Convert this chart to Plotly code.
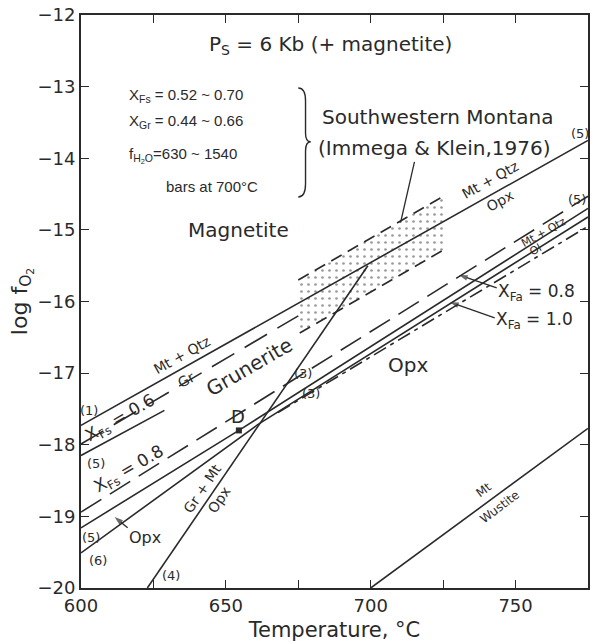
import plotly.graph_objects as go

# --- reaction boundaries: temperature (°C) and log fO2 ---
temp_mt_qtz_gr = [600, 775]
logf_mt_qtz_gr = [-17.73, -13.75]

temp_gr_mt_opx = [622.9, 699]
logf_gr_mt_opx = [-20.0, -15.5]

temp_line5_upper = [600, 628.8]
logf_line5_upper = [-18.15, -17.52]

temp_xfs06 = [600, 675]
logf_xfs06 = [-17.99, -16.20]

temp_xfs08 = [600, 775]
logf_xfs08 = [-18.94, -14.53]

temp_line5 = [600, 654.5, 775]
logf_line5 = [-19.16, -17.80, -14.70]

temp_line6 = [600, 661, 775]
logf_line6 = [-19.51, -17.72, -14.82]

temp_xfa10 = [668, 775]
logf_xfa10 = [-17.55, -14.95]

temp_mt_wus = [700, 775]
logf_mt_wus = [-20.0, -17.77]

# Southwestern Montana field (Immega & Klein, 1976)
temp_field_top = [675, 726]
logf_field_top = [-15.70, -14.51]
temp_field_bot = [675.5, 726.4]
logf_field_bot = [-16.44, -15.25]

point_d = (654.5, -17.80)

INK = "#2a2a2a"
FONT = "DejaVu Sans"
NARROW = "Liberation Sans"

fig = go.Figure()

def line(xs, ys, dash="solid", width=1.6):
    fig.add_trace(go.Scatter(x=xs, y=ys, mode="lines", showlegend=False,
                             hoverinfo="skip",
                             line=dict(color=INK, width=width, dash=dash)))

def arrow(tail, tip):
    # leader line with an arrowhead at the pointed end
    fig.add_trace(go.Scatter(
        x=[tail[0], tip[0]], y=[tail[1], tip[1]], mode="lines+markers",
        showlegend=False, hoverinfo="skip",
        line=dict(color=INK, width=1.3),
        marker=dict(symbol=["circle", "arrow"], size=[0, 9],
                    angleref="previous", color=INK, line=dict(width=0))))

# stippled field
fig.add_trace(go.Scatter(
    x=temp_field_top + temp_field_bot[::-1],
    y=logf_field_top + logf_field_bot[::-1],
    mode="lines", fill="toself", showlegend=False, hoverinfo="skip",
    line=dict(width=0, color="rgba(0,0,0,0)"),
    fillcolor="rgba(0,0,0,0)",
    fillpattern=dict(shape=".", fgcolor="#333", bgcolor="white",
                     size=7, solidity=0.12)))

line(temp_field_top, logf_field_top, dash="12px,7px")
line(temp_field_bot, logf_field_bot, dash="12px,7px")
line(temp_mt_qtz_gr, logf_mt_qtz_gr)
line(temp_gr_mt_opx, logf_gr_mt_opx)
line(temp_line5_upper, logf_line5_upper)
line(temp_xfs06, logf_xfs06, dash="26px,12px")
line(temp_xfs08, logf_xfs08, dash="24px,10px")
line(temp_line5, logf_line5)
line(temp_line6, logf_line6)
line(temp_xfa10, logf_xfa10, dash="14px,5px,4px,5px")
line(temp_mt_wus, logf_mt_wus)

fig.add_trace(go.Scatter(x=[point_d[0]], y=[point_d[1]], mode="markers",
                         showlegend=False, hoverinfo="skip",
                         marker=dict(symbol="square", size=6, color=INK)))

arrow((743.5, -15.81), (730.5, -15.63))
arrow((742.8, -16.23), (727.4, -16.01))
arrow((616.1, -19.16), (611.6, -19.01))

ann = []

def text(x, y, s, size=16, angle=0, anchor="center", family=FONT):
    ann.append(dict(x=x, y=y, xref="x", yref="y", text=s, showarrow=False,
                    textangle=angle, xanchor=anchor, yanchor="middle",
                    font=dict(family=family, size=size, color=INK)))

text(686, -12.42, "P<sub>S</sub> = 6 Kb (+ magnetite)", size=20)
text(615.8, -13.12, "X<sub>Fs</sub> = 0.52 ~ 0.70", size=15, anchor="left", family=NARROW)
text(615.8, -13.49, "X<sub>Gr</sub> = 0.44 ~ 0.66", size=15, anchor="left", family=NARROW)
text(615.8, -13.96, "f<sub>H<sub>2</sub>O</sub>=630 ~ 1540", size=15, anchor="left", family=NARROW)
text(628.8, -14.40, "bars at 700°C", size=15, anchor="left", family=NARROW)
text(723, -13.42, "Southwestern Montana", size=20)
text(722, -13.86, "(Immega & Klein,1976)", size=20)
text(654.5, -15.0, "Magnetite", size=20)
text(658, -16.92, "Grunerite", size=20, angle=-30)
text(713, -16.89, "Opx", size=20)
text(654.1, -17.61, "D", size=18)
text(634.9, -16.75, "Mt + Qtz", size=14, angle=-29)
text(636.3, -17.10, "Gr", size=14, angle=-29)
text(613.7, -17.63, "X<sub>Fs</sub> = 0.6", size=17, angle=-30)
text(616.8, -18.35, "X<sub>Fs</sub> = 0.8", size=17, angle=-30)
text(602.6, -17.52, "(1)", size=13)
text(605.1, -18.26, "(5)", size=13)
text(603.3, -19.29, "(5)", size=13)
text(605.8, -19.61, "(6)", size=13)
text(631.2, -19.82, "(4)", size=13)
text(676.7, -17.01, "(3)", size=13)
text(679.5, -17.28, "(3)", size=13)
text(772.3, -13.65, "(5)", size=13)
text(771.2, -14.57, "(5)", size=13)
text(741.1, -14.30, "Mt + Qtz", size=14, angle=-29)
text(744.5, -14.60, "Opx", size=14, angle=-29)
text(759.6, -15.03, "Mt + Qtz", size=11, angle=-29)
text(757.2, -15.28, "Ol", size=11, angle=-29)
text(757.2, -15.87, "X<sub>Fa</sub> = 0.8", size=17)
text(756.5, -16.27, "X<sub>Fa</sub> = 1.0", size=17)
text(642.1, -18.61, "Gr + Mt", size=14, angle=-56)
text(647.6, -18.77, "Opx", size=14, angle=-56)
text(622.2, -19.29, "Opx", size=16)
text(739.0, -18.63, "Mt", size=12, angle=-37)
text(744.5, -18.87, "Wustite", size=12, angle=-37)

# leader from the Montana label to the field
fig.add_shape(type="line", xref="x", yref="y", x0=715.1, y0=-14.05,
              x1=710.3, y1=-14.90, line=dict(color=INK, width=1.3))
# brace grouping the Montana compositions
fig.add_shape(type="path", xref="x", yref="y",
              path="M 675,-13.02 Q 677.5,-13.02 677.5,-13.2 L 677.5,-13.65 "
                   "Q 677.5,-13.77 679.3,-13.77 Q 677.5,-13.77 677.5,-13.9 "
                   "L 677.5,-14.36 Q 677.5,-14.54 675,-14.54",
              line=dict(color=INK, width=1.4))

tick_style = dict(ticks="inside", ticklen=8, tickwidth=1.3, tickcolor=INK)

fig.update_layout(
    width=594, height=643,
    margin=dict(l=81, r=4, t=15, b=55),
    paper_bgcolor="white", plot_bgcolor="white",
    annotations=ann,
    font=dict(family=FONT, color=INK),
    xaxis=dict(range=[600, 775], tick0=600, dtick=50, **tick_style,
               minor=dict(dtick=25, tick0=600, **tick_style),
               showline=True, linecolor=INK, linewidth=1.8, mirror="ticks",
               showgrid=False, zeroline=False,
               tickfont=dict(size=18, family=FONT),
               title=dict(text="Temperature, °C", standoff=8,
                          font=dict(size=21, family=FONT))),
    yaxis=dict(range=[-20, -12], tick0=-20, dtick=1, **tick_style,
               showline=True, linecolor=INK, linewidth=1.8, mirror="ticks",
               showgrid=False, zeroline=False,
               tickfont=dict(size=18, family=FONT),
               title=dict(text="log f<sub>O<sub>2</sub></sub>", standoff=4,
                          font=dict(size=22, family=FONT))),
)

fig.write_html("out.html")
